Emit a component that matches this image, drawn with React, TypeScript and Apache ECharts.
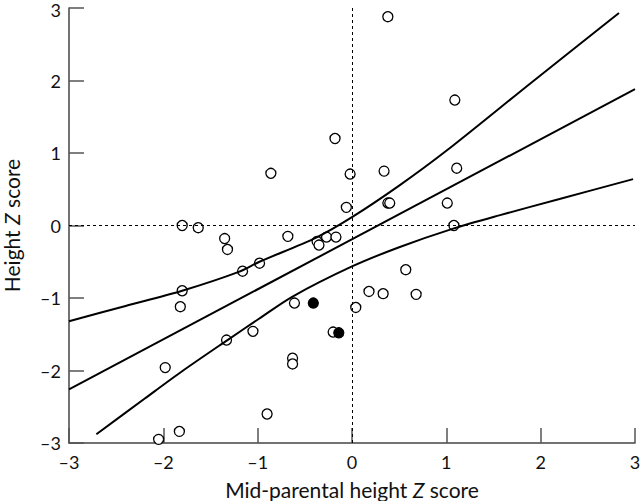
import React, { useEffect, useRef } from "react";
import * as echarts from "echarts";

// Open circles (observed children)
const openX = [0.38, 1.09, -0.18, -0.86, -0.02, 0.34, 0.38, 0.4, -0.06, 1.11, 1.01, 1.08, -1.8, -1.63, -1.35, -1.32, -0.68, -0.37, -0.35, -0.27, -0.17, -0.98, -1.16, -1.8, -1.82, 0.18, 0.33, 0.57, 0.68, -0.61, 0.04, -1.05, -0.2, -1.33, -0.63, -0.63, -1.98, -0.9, -1.83, -2.05];
const openY = [2.88, 1.73, 1.2, 0.72, 0.71, 0.75, 0.31, 0.31, 0.25, 0.79, 0.31, 0.0, 0.0, -0.03, -0.18, -0.33, -0.15, -0.22, -0.27, -0.16, -0.16, -0.52, -0.63, -0.9, -1.12, -0.91, -0.94, -0.61, -0.95, -1.07, -1.13, -1.46, -1.47, -1.58, -1.83, -1.91, -1.96, -2.6, -2.84, -2.95];

// Filled circles
const filledX = [-0.41, -0.14];
const filledY = [-1.07, -1.48];

// Regression line
const fitX = [-3.0, 3.0];
const fitY = [-2.26, 1.88];

// Upper band
const upperX = [-3.0, -2.4, -1.8, -1.2, -0.98, -0.385, 0.0, 0.5, 1.0, 1.9, 2.83];
const upperY = [-1.32, -1.11, -0.9, -0.64, -0.5, -0.17, 0.115, 0.55, 1.03, 1.97, 2.93];

// Lower band
const lowerX = [-2.71, -2.2, -1.79, -1.32, -0.99, -0.63, 0.0, 0.5, 1.08, 1.56, 2.2, 2.98];
const lowerY = [-2.88, -2.39, -2.0, -1.58, -1.29, -0.98, -0.565, -0.3, -0.04, 0.14, 0.365, 0.64];

const ticks = [-3, -2, -1, 0, 1, 2, 3];

const zip = (xs: number[], ys: number[]) => xs.map((x, i) => [x, ys[i]]);

const FONT = "Lato, 'Open Sans', sans-serif";

export default function App() {
  const ref = useRef<HTMLDivElement>(null);
  useEffect(() => {
    if (!ref.current) return;
    const chart = echarts.init(ref.current, undefined, { renderer: "svg" });
    const fmt = (v: number) => (ticks.includes(v) ? String(v).replace("-", "\u2013") : "");
    const fmtY = (v: number) => (v === 3 ? "{top|3}" : fmt(v));
    const axisCommon = {
      type: "value" as const,
      min: -3,
      max: 3,
      interval: 1,
      splitLine: { show: false },
      axisLine: { show: true, onZero: false, lineStyle: { color: "#444", width: 1.5 } },
      axisTick: { show: true, inside: true, length: 15, lineStyle: { color: "#555", width: 1.5 } },
      axisLabel: { color: "#111", fontSize: 18, fontFamily: FONT, formatter: fmt },
      nameLocation: "middle" as const,
      nameTextStyle: {
        color: "#111",
        fontSize: 21,
        fontFamily: FONT,
        rich: { i: { fontStyle: "italic", fontSize: 21, fontFamily: FONT, color: "#111" } },
      },
    };
    chart.setOption({
      animation: false,
      backgroundColor: "#fff",
      grid: { left: 69, right: 5, top: 8, bottom: 58, containLabel: false, outerBoundsMode: "none" },
      xAxis: {
        ...axisCommon,
        name: "Mid-parental height {i|Z} score",
        nameGap: 36,
        axisLabel: { ...axisCommon.axisLabel, margin: 10 },
      },
      yAxis: {
        ...axisCommon,
        name: "Height {i|Z} score",
        nameGap: 47,
        nameRotate: 90,
        axisLabel: {
          ...axisCommon.axisLabel,
          margin: 8,
          formatter: fmtY,
          rich: { top: { fontSize: 18, fontFamily: FONT, color: "#111", padding: [4, 0, 0, 0] } },
        },
      },
      series: [
        {
          type: "line",
          data: zip(fitX, fitY),
          symbol: "none",
          lineStyle: { color: "#000", width: 2 },
          silent: true,
          markLine: {
            silent: true,
            symbol: ["none", "none"],
            label: { show: false },
            lineStyle: { color: "#000", width: 1, type: [3, 3] },
            data: [{ xAxis: 0 }, { yAxis: 0 }],
          },
        },
        {
          type: "line",
          data: zip(upperX, upperY),
          symbol: "none",
          smooth: 0.3,
          lineStyle: { color: "#000", width: 2 },
          silent: true,
        },
        {
          type: "line",
          data: zip(lowerX, lowerY),
          symbol: "none",
          smooth: 0.3,
          lineStyle: { color: "#000", width: 2 },
          silent: true,
        },
        {
          type: "scatter",
          data: zip(openX, openY),
          symbol: "circle",
          symbolSize: 10,
          itemStyle: { color: "#fff", borderColor: "#000", borderWidth: 1.3, opacity: 1 },
          silent: true,
        },
        {
          type: "scatter",
          data: zip(filledX, filledY),
          symbol: "circle",
          symbolSize: 10,
          itemStyle: { color: "#000", borderColor: "#000", borderWidth: 1.3, opacity: 1 },
          silent: true,
        },
      ],
    });
    return () => chart.dispose();
  }, []);
  return (
    <div
      ref={ref}
      style={{ position: "fixed", left: 0, top: 0, width: 640, height: 501, background: "#fff" }}
    />
  );
}
